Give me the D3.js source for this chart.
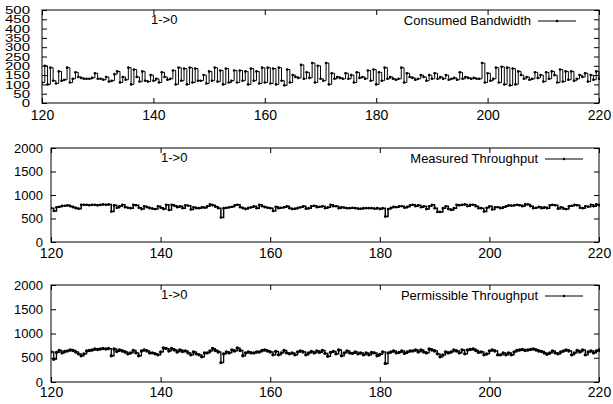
<!DOCTYPE html>
<html><head><meta charset="utf-8">
<script src="https://cdn.jsdelivr.net/npm/d3@7"></script>
<style>
body{margin:0;background:#fff;}
svg text{font-family:"Liberation Sans",Arial,Helvetica,sans-serif;fill:#000;}
</style></head>
<body><svg id="c" width="613" height="404"></svg>
<script>
const xStart = 120, xStep = 0.5;
const xTicks = [120,140,160,180,200,220];
const bwTicks = [0,50,100,150,200,250,300,350,400,450,500];
const tpTicks = [0,500,1000,1500,2000];
const seriesNames = ["Consumed Bandwidth","Measured Throughput","Permissible Throughput"];
const linkLabel = "1->0";

const consumed = [
110,200,100,190,120,105,170,120,125,190,110,130,165,140,135,130,130,130,135,160,130,
130,125,140,115,120,155,170,110,140,125,190,100,180,140,115,170,120,115,150,120,
130,110,165,140,125,130,175,100,190,120,185,100,190,110,185,120,120,150,105,170,
120,190,115,175,100,185,110,120,175,110,175,120,170,100,185,120,170,105,190,110,
190,105,185,100,190,120,95,180,110,150,140,135,205,130,165,135,215,110,200,130,
120,215,100,160,130,140,135,130,160,130,150,110,165,135,140,130,175,120,180,100,
165,120,190,130,140,130,125,130,190,110,160,140,135,125,130,150,140,120,150,130,
160,130,140,130,150,125,130,135,125,165,130,140,135,130,135,130,130,215,110,160,
120,130,190,110,195,100,190,95,185,100,170,150,130,140,125,130,165,135,150,115,
165,130,170,150,110,180,115,170,125,170,120,130,150,140,160,115,150,125,170,130];

const measured = [
720,660,740,750,770,770,780,760,740,720,710,790,790,790,780,790,790,780,790,800,790,
800,650,780,730,760,790,740,730,720,790,780,730,700,760,740,720,710,700,760,730,
700,790,680,790,770,740,760,720,780,770,690,740,720,720,740,730,760,800,780,750,
720,520,720,730,740,750,780,790,740,720,700,730,740,760,720,790,760,740,730,720,
660,750,720,730,740,760,720,700,710,730,740,760,710,720,760,770,740,750,760,720,
740,790,760,760,720,740,730,720,720,730,720,710,710,720,720,720,720,710,720,700,
720,540,700,730,750,740,760,760,730,750,780,790,760,780,740,760,700,760,790,720,
640,640,720,760,700,680,720,790,780,790,800,760,790,790,760,720,720,650,730,760,
690,740,740,720,740,760,780,770,780,790,780,760,800,800,760,720,730,750,720,740,
720,780,790,780,710,740,710,700,760,770,790,780,730,720,760,750,790,760,800,780];

const permissible = [
620,470,610,650,600,630,640,660,650,620,580,540,580,640,650,660,680,670,680,690,680,
690,540,680,630,660,640,620,580,600,650,600,540,640,660,640,600,600,580,560,620,
700,690,640,690,660,620,660,630,640,600,560,620,580,560,520,600,600,640,690,650,
620,400,580,620,600,660,640,700,650,540,600,620,600,600,620,620,650,660,640,620,
560,630,560,600,650,600,580,600,560,620,640,620,560,600,630,600,640,610,650,590,
530,610,630,580,660,540,600,640,600,590,620,580,600,560,600,560,610,600,540,570,
620,380,600,620,640,600,610,640,590,620,640,640,660,620,660,620,600,680,660,640,
580,520,560,620,600,620,660,640,600,660,580,660,670,680,650,610,620,560,580,640,
660,640,560,560,600,560,600,560,620,650,660,670,650,660,670,680,660,640,630,600,
570,600,640,600,580,620,640,660,640,560,600,650,620,660,560,620,640,600,640,660];

const svg = d3.select("#c");

function panel(cfg){
  const {left,right,top,bottom,yMax,yTicks,values,name,yFont,dotR,labelX,legendEnd} = cfg;
  const g = svg.append("g");
  const x = d3.scaleLinear().domain([120,220]).range([left,right]);
  const y = d3.scaleLinear().domain([0,yMax]).range([bottom,top]);
  const data = values.map((v,i)=>({x:xStart+i*xStep,y:v})).filter(d=>d.x<=220);

  const ax = g.append("g").attr("transform",`translate(0,${bottom})`)
    .call(d3.axisBottom(x).tickValues(xTicks).tickSize(-5).tickPadding(cfg.xPad).tickFormat(d3.format("d")));
  ax.selectAll("text").style("font-size","14px");
  g.append("g").attr("transform",`translate(0,${top})`)
    .call(d3.axisTop(x).tickValues(xTicks).tickSize(-5).tickFormat(""));
  const ay = g.append("g").attr("transform",`translate(${left},0)`)
    .call(d3.axisLeft(y).tickValues(yTicks).tickSize(-5).tickPadding(cfg.yPad).tickFormat(d3.format("d")));
  ay.selectAll("text").style("font-size",yFont+"px");
  if (cfg.ySx) {
    ay.selectAll("text")
      .attr("x", -cfg.yPad / cfg.ySx)
      .attr("dy", "0.36em")
      .attr("transform", `scale(${cfg.ySx},${cfg.ySy})`);
  }
  g.append("g").attr("transform",`translate(${right},0)`)
    .call(d3.axisRight(y).tickValues(yTicks).tickSize(-5).tickFormat(""));
  g.selectAll(".domain").remove();
  g.selectAll(".tick line").attr("stroke","#000");
  g.append("rect").attr("x",left).attr("y",top).attr("width",right-left).attr("height",bottom-top)
    .attr("fill","none").attr("stroke","#000").attr("stroke-width",1);

  const clipId = "clip"+cfg.id;
  svg.append("clipPath").attr("id",clipId).append("rect")
    .attr("x",left).attr("y",top).attr("width",right-left+1).attr("height",bottom-top);
  const line = d3.line().x(d=>x(d.x)).y(d=>y(d.y)).curve(d3.curveStepAfter);
  const pg = g.append("g").attr("clip-path",`url(#${clipId})`);
  pg.append("path").datum(data).attr("d",line).attr("fill","none")
    .attr("stroke","#000").attr("stroke-width",cfg.lw);
  pg.selectAll("circle").data(data).join("circle")
    .attr("cx",d=>x(d.x)).attr("cy",d=>y(d.y)).attr("r",dotR).attr("fill","#000");

  g.append("text").attr("x",labelX).attr("y",top+14).style("font-size","13px").text(linkLabel);
  const ly = top+11;
  g.append("text").attr("x",legendEnd).attr("y",ly+4).attr("text-anchor","end")
    .style("font-size","13px").text(name);
  g.append("line").attr("x1",legendEnd+7).attr("x2",legendEnd+45).attr("y1",ly).attr("y2",ly)
    .attr("stroke","#000").attr("stroke-width",1);
  g.append("circle").attr("cx",legendEnd+26).attr("cy",ly).attr("r",1.2).attr("fill","#000");
}

panel({id:1,left:42,right:599,top:10,bottom:103,yMax:500,yTicks:bwTicks,values:consumed,
  name:seriesNames[0],yFont:12,ySx:1.25,ySy:0.85,dotR:1.3,labelX:151,legendEnd:531,xPad:7,yPad:12,lw:1});
panel({id:2,left:51,right:599,top:148,bottom:242,yMax:2000,yTicks:tpTicks,values:measured,
  name:seriesNames[1],yFont:13,dotR:1.3,labelX:161,legendEnd:538,xPad:6,yPad:8,lw:1.5});
panel({id:3,left:51,right:599,top:285,bottom:382,yMax:2000,yTicks:tpTicks,values:permissible,
  name:seriesNames[2],yFont:13,dotR:1.7,labelX:161,legendEnd:538,xPad:5,yPad:8,lw:1.3});
</script></body></html>
